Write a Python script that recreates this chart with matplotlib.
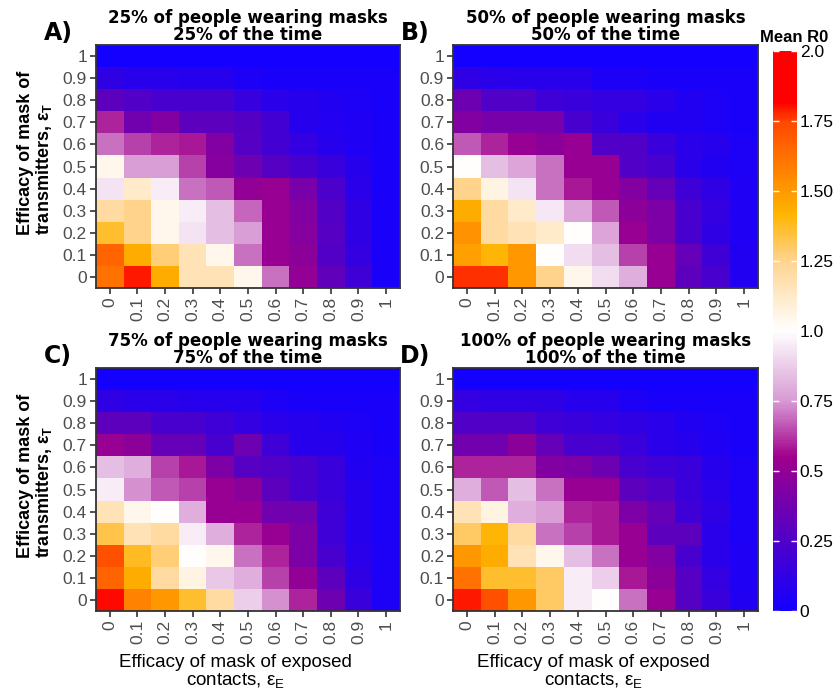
import numpy as np
import matplotlib.pyplot as plt
from matplotlib.colors import LinearSegmentedColormap

plt.rcParams['font.family'] = ['Liberation Sans', 'DejaVu Sans']

eff_ticks = ['0', '0.1', '0.2', '0.3', '0.4', '0.5', '0.6', '0.7', '0.8', '0.9', '1']

# mean R0, rows = transmitter mask efficacy 0 -> 1, cols = exposed contact efficacy 0 -> 1
r0_25 = np.array([
    [1.62, 1.79, 1.44, 1.16, 1.16, 1.04, 0.70, 0.50, 0.32, 0.18, 0.03],
    [1.66, 1.44, 1.28, 1.16, 1.04, 0.70, 0.52, 0.48, 0.26, 0.14, 0.03],
    [1.36, 1.25, 1.04, 0.93, 0.84, 0.76, 0.52, 0.46, 0.28, 0.12, 0.03],
    [1.21, 1.25, 1.04, 0.96, 0.84, 0.68, 0.52, 0.44, 0.26, 0.12, 0.03],
    [0.93, 1.12, 0.96, 0.70, 0.67, 0.50, 0.52, 0.40, 0.24, 0.10, 0.03],
    [1.04, 0.76, 0.76, 0.64, 0.46, 0.36, 0.28, 0.22, 0.16, 0.08, 0.03],
    [0.70, 0.64, 0.60, 0.58, 0.44, 0.28, 0.20, 0.14, 0.08, 0.05, 0.03],
    [0.60, 0.38, 0.44, 0.30, 0.30, 0.27, 0.20, 0.08, 0.07, 0.05, 0.03],
    [0.30, 0.25, 0.22, 0.22, 0.22, 0.15, 0.10, 0.08, 0.06, 0.04, 0.03],
    [0.12, 0.09, 0.09, 0.08, 0.08, 0.04, 0.03, 0.03, 0.03, 0.03, 0.03],
    [0.00, 0.00, 0.00, 0.00, 0.00, 0.00, 0.00, 0.00, 0.00, 0.00, 0.00],
])

r0_50 = np.array([
    [1.77, 1.77, 1.50, 1.25, 1.04, 0.92, 0.80, 0.52, 0.30, 0.22, 0.06],
    [1.48, 1.41, 1.50, 1.00, 0.92, 0.84, 0.64, 0.52, 0.33, 0.18, 0.06],
    [1.52, 1.21, 1.16, 1.12, 1.00, 0.78, 0.52, 0.42, 0.22, 0.12, 0.05],
    [1.44, 1.21, 1.12, 0.94, 0.78, 0.67, 0.48, 0.42, 0.22, 0.14, 0.05],
    [1.25, 1.07, 0.93, 0.70, 0.58, 0.52, 0.44, 0.33, 0.18, 0.12, 0.05],
    [1.00, 0.84, 0.78, 0.70, 0.52, 0.52, 0.25, 0.22, 0.10, 0.06, 0.04],
    [0.67, 0.60, 0.52, 0.48, 0.52, 0.25, 0.25, 0.16, 0.10, 0.08, 0.04],
    [0.44, 0.40, 0.40, 0.40, 0.22, 0.16, 0.10, 0.06, 0.06, 0.04, 0.03],
    [0.36, 0.25, 0.25, 0.18, 0.16, 0.14, 0.14, 0.10, 0.06, 0.04, 0.03],
    [0.12, 0.10, 0.09, 0.09, 0.09, 0.04, 0.04, 0.03, 0.03, 0.03, 0.03],
    [0.00, 0.00, 0.00, 0.00, 0.00, 0.00, 0.00, 0.00, 0.00, 0.00, 0.00],
])

r0_75 = np.array([
    [1.81, 1.57, 1.50, 1.36, 1.21, 0.88, 0.74, 0.60, 0.36, 0.16, 0.04],
    [1.66, 1.44, 1.21, 1.07, 0.86, 0.80, 0.64, 0.50, 0.30, 0.12, 0.04],
    [1.72, 1.38, 1.28, 1.00, 1.04, 0.70, 0.60, 0.42, 0.22, 0.10, 0.04],
    [1.33, 1.16, 1.21, 0.96, 0.80, 0.60, 0.52, 0.42, 0.18, 0.08, 0.04],
    [1.16, 1.04, 1.00, 0.80, 0.52, 0.52, 0.38, 0.38, 0.18, 0.08, 0.04],
    [0.96, 0.74, 0.67, 0.64, 0.52, 0.48, 0.30, 0.22, 0.16, 0.08, 0.04],
    [0.84, 0.80, 0.64, 0.58, 0.42, 0.28, 0.25, 0.22, 0.16, 0.06, 0.04],
    [0.52, 0.48, 0.33, 0.33, 0.22, 0.36, 0.18, 0.08, 0.08, 0.05, 0.03],
    [0.30, 0.30, 0.22, 0.22, 0.18, 0.14, 0.10, 0.08, 0.06, 0.04, 0.03],
    [0.12, 0.10, 0.10, 0.08, 0.08, 0.08, 0.04, 0.03, 0.03, 0.03, 0.03],
    [0.00, 0.00, 0.00, 0.00, 0.00, 0.00, 0.00, 0.00, 0.00, 0.00, 0.00],
])

r0_100 = np.array([
    [1.79, 1.72, 1.50, 1.30, 0.96, 1.00, 0.70, 0.52, 0.28, 0.16, 0.06],
    [1.62, 1.36, 1.36, 1.30, 0.96, 0.88, 0.58, 0.48, 0.28, 0.14, 0.05],
    [1.50, 1.44, 1.16, 1.04, 0.84, 0.70, 0.52, 0.44, 0.22, 0.10, 0.05],
    [1.30, 1.41, 1.21, 0.70, 0.64, 0.58, 0.52, 0.30, 0.30, 0.10, 0.04],
    [1.16, 1.07, 0.80, 0.76, 0.60, 0.58, 0.42, 0.33, 0.18, 0.12, 0.04],
    [0.80, 0.67, 0.84, 0.70, 0.52, 0.52, 0.30, 0.25, 0.16, 0.10, 0.04],
    [0.60, 0.60, 0.60, 0.44, 0.42, 0.36, 0.22, 0.18, 0.16, 0.08, 0.04],
    [0.38, 0.38, 0.48, 0.33, 0.22, 0.22, 0.16, 0.10, 0.08, 0.05, 0.03],
    [0.25, 0.25, 0.25, 0.18, 0.16, 0.14, 0.12, 0.10, 0.06, 0.04, 0.03],
    [0.14, 0.12, 0.12, 0.12, 0.08, 0.08, 0.04, 0.03, 0.03, 0.03, 0.03],
    [0.00, 0.00, 0.00, 0.00, 0.00, 0.00, 0.00, 0.00, 0.00, 0.00, 0.00],
])

panels = [
    ('A)', '25% of people wearing masks\n25% of the time', r0_25),
    ('B)', '50% of people wearing masks\n50% of the time', r0_50),
    ('C)', '75% of people wearing masks\n75% of the time', r0_75),
    ('D)', '100% of people wearing masks\n100% of the time', r0_100),
]

cbar_ticks = [0, 0.25, 0.5, 0.75, 1.0, 1.25, 1.5, 1.75, 2.0]
cbar_labels = ['0', '0.25', '0.5', '0.75', '1.0', '1.25', '1.50', '1.75', '2.0']

cmap = LinearSegmentedColormap.from_list('r0', [
    (0.0, '#1400FF'), (0.125, '#5000C8'), (0.275, '#A0008C'), (0.375, '#D89AD4'),
    (0.5, '#FFFFFF'), (0.625, '#FFD490'), (0.71, '#FFB400'), (0.875, '#FF4800'),
    (0.91, '#FF0000'), (1.0, '#FF0000')])

fig = plt.figure(figsize=(8.36, 6.93), dpi=100)

# axes rectangles in figure fractions
boxes = [
    [0.1148, 0.5844, 0.3636, 0.3506],
    [0.5419, 0.5844, 0.3648, 0.3506],
    [0.1148, 0.1183, 0.3636, 0.3506],
    [0.5419, 0.1183, 0.3648, 0.3506],
]

edge = '#333333'
for i, (tag, title, vals) in enumerate(panels):
    ax = fig.add_axes(boxes[i])
    im = ax.imshow(vals, origin='lower', cmap=cmap, vmin=0, vmax=2, aspect='auto',
                   interpolation='nearest', extent=(-0.5, 10.5, -0.5, 10.5))
    ax.set_xticks(range(11))
    ax.set_xticklabels(eff_ticks, rotation=90)
    ax.set_yticks(range(11))
    ax.set_yticklabels(eff_ticks)
    ax.tick_params(length=4, width=1.2, color=edge, labelcolor='#4D4D4D',
                   labelsize=12.5, pad=2.5)
    for s in ax.spines.values():
        s.set_color(edge)
        s.set_linewidth(1.3)
    ax.text(0.5, 1.005, title, transform=ax.transAxes, ha='center', va='bottom',
            fontsize=12, fontweight='bold', family='DejaVu Sans', linespacing=0.95)
    ax.text(-0.125, 1.05, tag, transform=ax.transAxes, ha='center', va='center',
            fontsize=17, fontweight='bold', family='DejaVu Sans')
    if i % 2 == 0:
        ax.text(-0.2, 0.555, 'Efficacy of mask of\ntransmitters, $\\mathregular{\\epsilon_T}$',
                transform=ax.transAxes, rotation=90, ha='center', va='center',
                multialignment='left', fontsize=13, fontweight='bold', linespacing=1.0)
    if i >= 2:
        ax.text(0.46, -0.178, 'Efficacy of mask of exposed\ncontacts, $\\mathregular{\\epsilon_E}$',
                transform=ax.transAxes, ha='center', va='top', fontsize=13.5,
                linespacing=1.0)

cax = fig.add_axes([0.9247, 0.1183, 0.0287, 0.8081])
cb = fig.colorbar(im, cax=cax, ticks=cbar_ticks)
cb.ax.set_yticklabels(cbar_labels)
cb.outline.set_visible(False)
cb.ax.tick_params(direction='in', color='white', length=4, width=1, left=True, right=True,
                  labelsize=12.5, labelcolor='black', pad=2)
cb.ax.text(-0.55, 1.01, 'Mean R0', transform=cb.ax.transAxes, ha='left', va='bottom',
           fontsize=12, fontweight='bold')

fig.savefig('out.png', dpi=100)
